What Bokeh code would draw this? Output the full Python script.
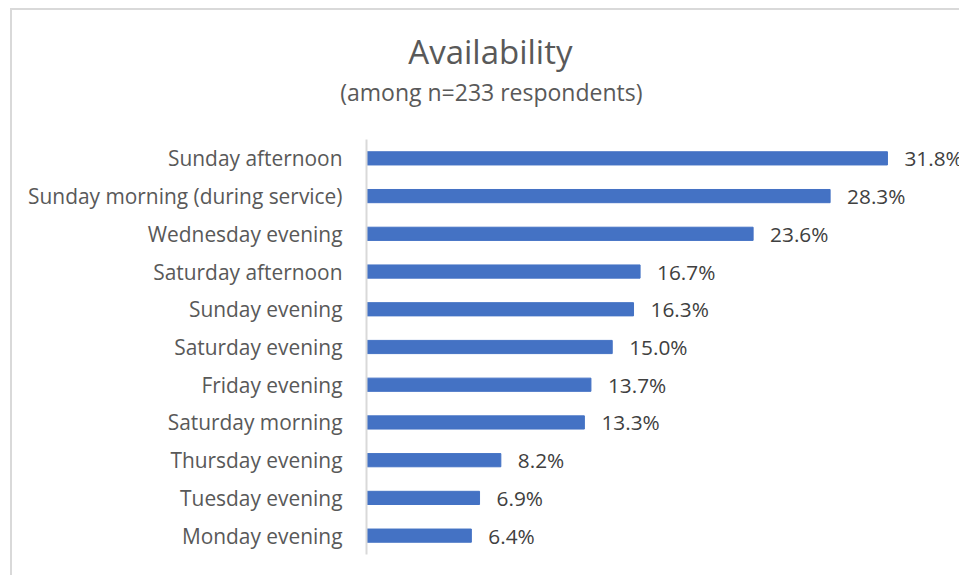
from bokeh.plotting import figure
from bokeh.models import ColumnDataSource, FactorRange, Range1d, Title
from bokeh.core.properties import value
from bokeh.embed import file_html
from bokeh.resources import INLINE

categories = ["Sunday afternoon", "Sunday morning (during service)", "Wednesday evening",
              "Saturday afternoon", "Sunday evening", "Saturday evening", "Friday evening",
              "Saturday morning", "Thursday evening", "Tuesday evening", "Monday evening"]
values = [31.8, 28.3, 23.6, 16.7, 16.3, 15.0, 13.7, 13.3, 8.2, 6.9, 6.4]
labels = [f"{v:.1f}%" for v in values]
title_text = "Availability"
subtitle_text = "(among n=233 respondents)"

FONT = "Open Sans"
W, H = 949, 567

src = ColumnDataSource(dict(cat=categories, val=values, lab=labels))

p = figure(width=W, height=H, output_backend="svg", toolbar_location=None,
           y_range=FactorRange(factors=list(reversed(categories))),
           x_range=Range1d(0, 36.32),
           min_border_left=354, min_border_right=0, min_border_top=129, min_border_bottom=23,
           styles={"margin-left": "10px", "margin-top": "8px",
                   "border-left": "2px solid #d9d9d9", "border-top": "2px solid #d9d9d9"})
p.outline_line_color = None
p.xgrid.visible = False
p.ygrid.visible = False
p.xaxis.visible = False

p.hbar(y="cat", right="val", left=0, height=0.35, source=src, color="#4472C4")
p.text(x="val", y="cat", text="lab", source=src, x_offset=17, text_baseline="middle",
       text_align="left", text_font=value(FONT), text_font_size="20.8px", text_color="#404040")

ax = p.yaxis[0]
ax.axis_line_color = "#d9d9d9"
ax.axis_line_width = 2
ax.major_tick_line_color = None
ax.minor_tick_line_color = None
ax.major_tick_out = 0
ax.major_label_standoff = 24
ax.major_label_text_font = FONT
ax.major_label_text_font_size = "20.9px"
ax.major_label_text_color = "#595959"

# spacer panel between the subtitle and the plot frame
p.add_layout(Title(text=" ", text_font_size="1px", standoff=29), "above")
p.add_layout(Title(text=subtitle_text, align="right", offset=319, standoff=0,
                   text_font=FONT, text_font_size="23px", text_font_style="normal",
                   text_color="#595959"), "above")
p.add_layout(Title(text=title_text, align="right", offset=389, standoff=0,
                   text_font=FONT, text_font_size="33px", text_font_style="normal",
                   text_color="#595959"), "above")

open("out.html", "w").write(file_html(p, INLINE))
